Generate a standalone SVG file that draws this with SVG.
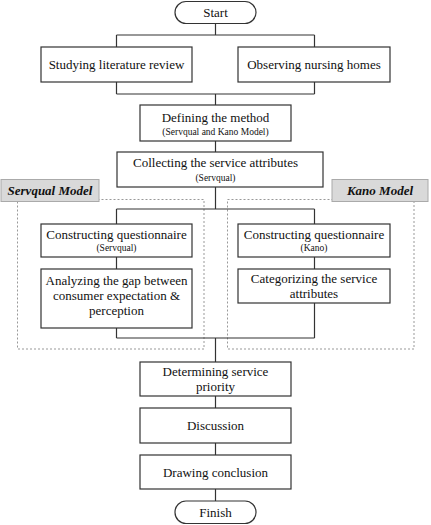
<svg xmlns="http://www.w3.org/2000/svg" width="431" height="525" viewBox="0 0 431 525">
<style>
.box{fill:#fff;stroke:#333;stroke-width:1.2}
.lbl{fill:#d9d9d9;stroke:#aaa;stroke-width:1}
.dash{fill:none;stroke:#999;stroke-width:1;stroke-dasharray:2,2}
.ln{fill:none;stroke:#333;stroke-width:1.2}
text{fill:#111;text-anchor:middle}
.t{font-size:13px}
.s{font-size:9.5px}
.b{font-size:13px;font-weight:bold;font-style:italic}
</style>
<rect width="431" height="525" fill="#fff"/>
<g id="groups">
<rect class="dash" x="17.5" y="199.5" width="186.5" height="149.5"/>
<rect class="dash" x="227.5" y="199.5" width="186.5" height="149.5"/>
</g>
<g id="connectors">
<path class="ln" d="M215.5 23V35M116.5 35H314.5M116.5 35V47M314.5 35V47"/>
<path class="ln" d="M116.5 82V94M314.5 82V94M116.5 94H314.5M215.5 94V105"/>
<path class="ln" d="M215.5 141V152"/>
<path class="ln" d="M215.5 187V209M116.5 209H314.5M116.5 209V224M314.5 209V224"/>
<path class="ln" d="M116.5 257V269M314.5 257V269"/>
<path class="ln" d="M116.5 328V338M314.5 303V338M116.5 338H314.5M215.5 338V362"/>
<path class="ln" d="M215.5 396V408M215.5 443V455M215.5 489V501"/>
</g>
<g font-family="'Liberation Serif', 'Times New Roman', Tinos, 'DejaVu Serif', serif">
<g id="servqual-label"><rect class="lbl" x="1" y="179.5" width="98" height="22"/><text class="b" x="50" y="194.5">Servqual Model</text></g>
<g id="kano-label"><rect class="lbl" x="332" y="179.5" width="96" height="22"/><text class="b" x="380" y="194.5">Kano Model</text></g>
<g id="start"><rect class="box" x="175" y="1.5" width="81" height="22" rx="11"/><text class="t" x="215.5" y="17">Start</text></g>
<g id="studying"><rect class="box" x="41" y="47" width="151" height="35"/><text class="t" x="116.5" y="68.5">Studying literature review</text></g>
<g id="observing"><rect class="box" x="238" y="47" width="152" height="35"/><text class="t" x="314" y="68.5">Observing nursing homes</text></g>
<g id="defining"><rect class="box" x="140" y="105" width="151" height="36"/><text class="t" x="215.5" y="121.5">Defining the method</text><text class="s" x="215.5" y="135">(Servqual and Kano Model)</text></g>
<g id="collecting"><rect class="box" x="117" y="152" width="206" height="35"/><text class="t" x="215.5" y="166.5">Collecting the service attributes</text><text class="s" x="215.5" y="181">(Servqual)</text></g>
<g id="cq-servqual"><rect class="box" x="41" y="224" width="151" height="33"/><text class="t" x="116.5" y="238.5">Constructing questionnaire</text><text class="s" x="116.5" y="251">(Servqual)</text></g>
<g id="analyzing"><rect class="box" x="41" y="269" width="151" height="59"/><text class="t" x="116.5" y="285">Analyzing the gap between</text><text class="t" x="116.5" y="300">consumer expectation &amp;</text><text class="t" x="116.5" y="315">perception</text></g>
<g id="cq-kano"><rect class="box" x="238" y="224" width="152" height="33"/><text class="t" x="314" y="238.5">Constructing questionnaire</text><text class="s" x="314" y="251">(Kano)</text></g>
<g id="categorizing"><rect class="box" x="238" y="269" width="152" height="34"/><text class="t" x="314" y="283">Categorizing the service</text><text class="t" x="314" y="298">attributes</text></g>
<g id="determining"><rect class="box" x="140" y="362" width="151" height="34"/><text class="t" x="215.5" y="376">Determining service</text><text class="t" x="215.5" y="391">priority</text></g>
<g id="discussion"><rect class="box" x="140" y="408" width="151" height="35"/><text class="t" x="215.5" y="429.5">Discussion</text></g>
<g id="drawing"><rect class="box" x="140" y="455" width="151" height="34"/><text class="t" x="215.5" y="476.5">Drawing conclusion</text></g>
<g id="finish"><rect class="box" x="175" y="501" width="81" height="22.5" rx="11"/><text class="t" x="215.5" y="517">Finish</text></g>
</g>
</svg>
